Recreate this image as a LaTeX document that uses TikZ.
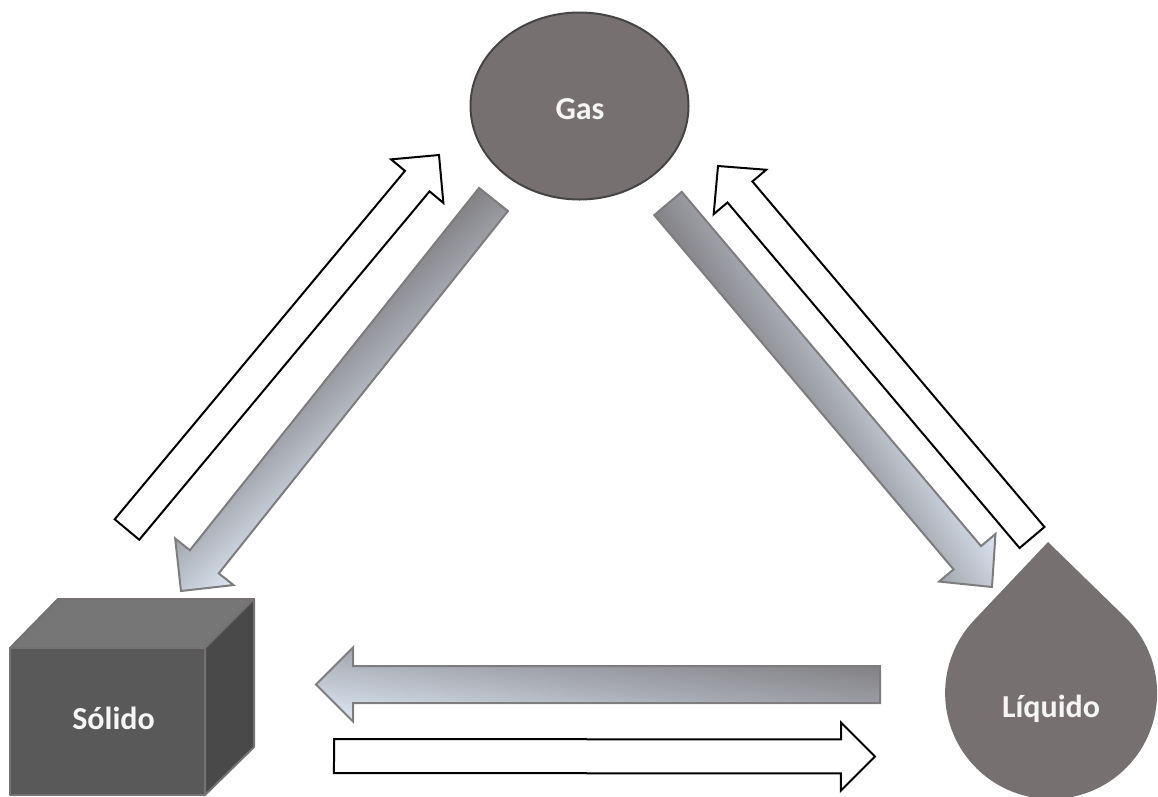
\documentclass[tikz,border=0pt]{standalone}
\usepackage{fontspec}
\setmainfont{Carlito}
\usetikzlibrary{calc,shapes.geometric}
\definecolor{gasfill}{HTML}{767170}
\definecolor{gasline}{HTML}{454545}
\definecolor{front}{HTML}{595959}
\definecolor{topf}{HTML}{767676}
\definecolor{sidef}{HTML}{494949}
\definecolor{cubeline}{HTML}{757171}
\definecolor{arrline}{HTML}{7F7C7D}
\definecolor{gradA}{HTML}{767475}
\definecolor{gradB}{HTML}{A6A9B1}
\definecolor{gradC}{HTML}{E0EBF8}
\pgfdeclareverticalshading{arrowgrad}{100bp}{color(0bp)=(gradA); color(50bp)=(gradB); color(100bp)=(gradC)}
\tikzset{
  label text/.style={font=\bfseries\fontsize{32}{36}\selectfont,text=white!96!black,anchor=base},
  gas shape/.style={ellipse,draw=gasline,line width=2pt,fill=gasfill,minimum width=218pt,minimum height=187pt,inner sep=0pt},
  cube edge/.style={draw=cubeline,line width=2pt,line join=round},
  outline arrow/.style={draw=black,line width=2pt,fill=white,line join=miter},
  grad arrow/.style={draw=arrline,line width=2pt,line join=miter},
}
% #1 tail, #2 tip, #3 half width, #4 half head width, #5 head length
\newcommand{\arrowoutline}[5]{%
  ($(#1)!#3pt!90:(#2)$) -- ($(hb)!#3pt!90:(#2)$) -- ($(hb)!#4pt!90:(#2)$) -- (#2)
    -- ($(hb)!#4pt!-90:(#2)$) -- ($(hb)!#3pt!-90:(#2)$) -- ($(#1)!#3pt!-90:(#2)$) -- cycle}
\newcommand{\blockarrow}[5]{%
  \coordinate (hb) at ($(#2)!#5pt!(#1)$);
  \path[outline arrow] \arrowoutline{#1}{#2}{#3}{#4}{#5};
}
% same arrow with the diagonal gradient of its own box
\newcommand{\gradarrow}[5]{%
  \coordinate (hb) at ($(#2)!#5pt!(#1)$);
  \path let \p1=($(#2)-(#1)$), \n1={atan2(\y1,\x1)}, \n2={veclen(\x1,\y1)} in
    \pgfextra{\pgfmathsetmacro{\arrang}{\n1}\pgfmathsetmacro{\arrlen}{\n2}%
      \global\let\arrang\arrang\global\let\arrlen\arrlen};
  \begin{scope}
    \clip \arrowoutline{#1}{#2}{#3}{#4}{#5};
    \begin{scope}[shift={(#1)},rotate=\arrang,shift={(\arrlen pt/2,0pt)},
        xscale={\arrlen/2/35.487},yscale={#4/35.487},rotate=-45]
      \pgflowlevelsynccm
      \pgfuseshading{arrowgrad}
    \end{scope}
  \end{scope}
  \path[grad arrow] \arrowoutline{#1}{#2}{#3}{#4}{#5};
}
\begin{document}
\begin{tikzpicture}[x=1pt,y=-1pt]
\useasboundingbox (0,0) rectangle (1158,796);
\clip (0,0) rectangle (1158,796);
% end points of the arrows
\coordinate (sgT) at (127,529.5); \coordinate (sgH) at (439,155);
\coordinate (gsT) at (493.5,199.5); \coordinate (gsH) at (181,591);
\coordinate (glT) at (668,203.5); \coordinate (glH) at (992,587);
\coordinate (lgT) at (1032,537.5); \coordinate (lgH) at (718,166);
\coordinate (lsT) at (880,684.5); \coordinate (lsH) at (316,684.5);
\coordinate (slT) at (334,756); \coordinate (slH) at (875,756.5);
% gas
\node[gas shape] (gas) at (579.5,106) {};
\node[label text] (gastext) at (580,119) {Gas};
% cube
\path[cube edge,fill=topf] (10,648) -- (58,599) -- (254,599) -- (205,648) -- cycle;
\path[cube edge,fill=sidef] (205,648) -- (254,599) -- (254,747) -- (205,795) -- cycle;
\path[cube edge,fill=front] (10,648) rectangle (205,795);
\node[label text] (solido) at (113.5,729) {Sólido};
% drop
\fill[gasfill] (1048,542) -- (1125,617) arc[start angle=-45.8,end angle=223.5,radius=106] -- cycle;
\node[label text] (liquido) at (1051,717) {Líquido};
% arrows
\blockarrow{sgT}{sgH}{16}{34}{34}
\blockarrow{lgT}{lgH}{16.3}{34.4}{34}
\blockarrow{slT}{slH}{17}{34}{34}
\gradarrow{gsT}{gsH}{18.5}{37.3}{37.4}
\gradarrow{glT}{glH}{18}{36.9}{38.3}
\gradarrow{lsT}{lsH}{18.5}{37}{37}
\end{tikzpicture}
\end{document}
